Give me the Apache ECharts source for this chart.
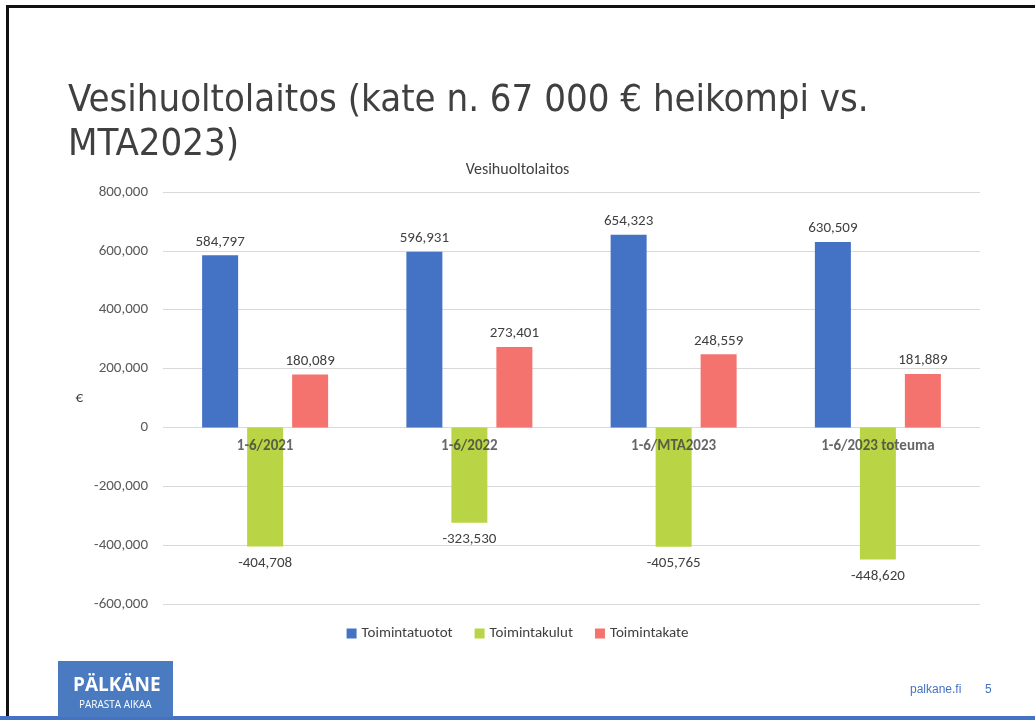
<!DOCTYPE html>
<html><head><meta charset="utf-8">
<script src="https://cdn.jsdelivr.net/npm/echarts@6/dist/echarts.min.js"></script>
<style>html,body{margin:0;padding:0;background:#fff}#c{width:1035px;height:720px}</style>
</head><body><div id="c"></div>
<script>
const categories = ['1-6/2021', '1-6/2022', '1-6/MTA2023', '1-6/2023 toteuma'];
const toimintatuotot = [584797, 596931, 654323, 630509];
const toimintakulut = [-404708, -323530, -405765, -448620];
const toimintakate = [180089, 273401, 248559, 181889];
const seriesNames = ['Toimintatuotot', 'Toimintakulut', 'Toimintakate'];

const fmt = v => {
  const s = Math.abs(v).toString().replace(/\B(?=(\d{3})+(?!\d))/g, ',');
  return (v < 0 ? '-' : '') + s;
};
const font = '"Liberation Sans", Arial, sans-serif';
const cfont = 'Carlito, "Open Sans", sans-serif';
const chart = echarts.init(document.getElementById('c'));
const lbl = {show: true, position: 'top', distance: 6, color: '#404040', fontSize: 15, fontFamily: cfont, formatter: p => fmt(p.value)};
chart.setOption({
  animation: false,
  textStyle: {fontFamily: cfont},
  title: {text: 'Vesihuoltolaitos', left: 'center', top: 157, textStyle: {fontSize: 16, fontWeight: 'normal', color: '#404040', fontFamily: cfont}},
  grid: {left: 163, right: 55, top: 192, bottom: 116, containLabel: false},
  legend: {bottom: 74, itemWidth: 10, itemHeight: 10, itemGap: 22, icon: 'rect', textStyle: {fontSize: 15, color: '#404040', fontFamily: cfont}, data: seriesNames},
  xAxis: {type: 'category', data: categories, axisLine: {show: false}, axisTick: {show: false}, axisLabel: {show: false}},
  yAxis: {type: 'value', min: -600000, max: 800000, interval: 200000, name: '€', nameLocation: 'middle', nameGap: 80, nameRotate: 0,
    nameTextStyle: {fontSize: 15, color: '#404040', fontFamily: cfont},
    axisLabel: {fontSize: 15, color: '#595959', margin: 15, formatter: v => fmt(v), fontFamily: cfont},
    splitLine: {lineStyle: {color: '#D9D9D9', width: 1}}},
  series: [
    {name: seriesNames[0], type: 'bar', data: toimintatuotot, barWidth: 36, barGap: '25%', itemStyle: {color: '#4472C4'}, label: lbl},
    {name: seriesNames[1], type: 'bar', data: toimintakulut, barWidth: 36, itemStyle: {color: '#B9D545'}, label: Object.assign({}, lbl, {position: 'bottom', distance: 9})},
    {name: seriesNames[2], type: 'bar', data: toimintakate, barWidth: 36, itemStyle: {color: '#F4736F'}, label: lbl},
    {name: 'categoryLabels', type: 'scatter', data: categories.map(c => [c, 0]), symbolSize: 0, z: 10, silent: true,
      label: {show: true, position: 'bottom', distance: 11, fontSize: 15, fontWeight: 'bold', color: '#404040', fontFamily: cfont, formatter: p => p.value[0]}}
  ],
  graphic: [
    {type: 'rect', shape: {x: 6, y: 5, width: 1029, height: 3}, style: {fill: '#111'}},
    {type: 'rect', shape: {x: 6, y: 5, width: 3, height: 715}, style: {fill: '#111'}},
    {type: 'rect', shape: {x: 0, y: 716, width: 1035, height: 4}, style: {fill: '#4472C4'}},
    {type: 'text', left: 68, top: 79, style: {text: 'Vesihuoltolaitos (kate n. 67 000 € heikompi vs.\nMTA2023)', fontSize: 38, lineHeight: 44, fill: '#404040', fontFamily: '"Liberation Sans Narrow", "DejaVu Sans Condensed", sans-serif'}},
    {type: 'rect', shape: {x: 58, y: 661, width: 115, height: 56}, style: {fill: '#4A7BC0'}},
    {type: 'text', left: 73, top: 676, style: {text: 'PÄLKÄNE', fontSize: 19, fontWeight: 'bold', fill: '#fff', fontFamily: '"Open Sans", sans-serif'}},
    {type: 'text', left: 79, top: 700, style: {text: 'PARASTA AIKAA', fontSize: 10, fill: '#fff', fontFamily: '"Open Sans", sans-serif'}},
    {type: 'text', left: 910, top: 684, style: {text: 'palkane.fi', fontSize: 12, fill: '#4472C4', fontFamily: font}},
    {type: 'text', left: 985, top: 684, style: {text: '5', fontSize: 12, fill: '#4472C4', fontFamily: font}}
  ]
});
</script></body></html>
